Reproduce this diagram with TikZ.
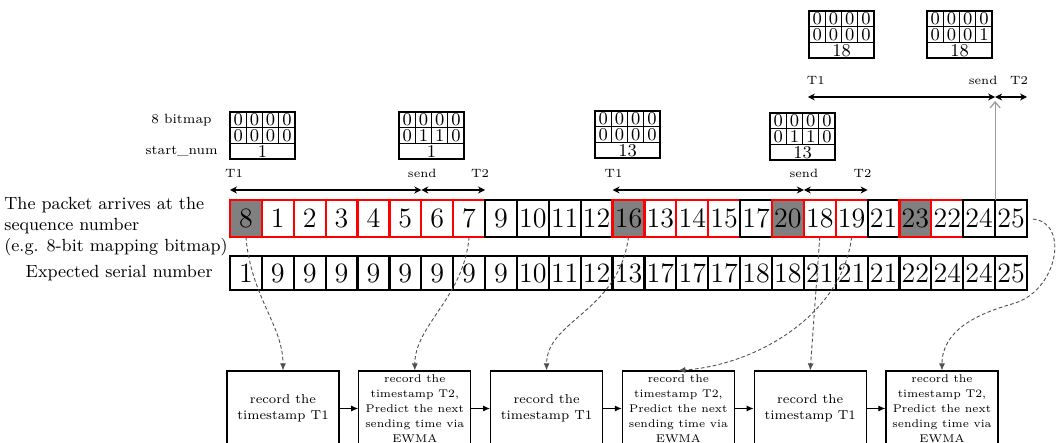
\documentclass[tikz,border=0pt]{standalone}
\usepackage{fontspec}
\usepackage{tikz}
\usetikzlibrary{positioning,arrows.meta,calc}
\definecolor{pktred}{HTML}{FF0000}
\definecolor{pktgrey}{HTML}{808080}
\definecolor{pktdash}{HTML}{505050}
\definecolor{pktup}{HTML}{9A9A9A}

% bitmap: name, top-left corner, upper row, lower row, start_num
\newcommand{\bmap}[5]{%
  \foreach \d [count=\k] in {#3}
    \node[bit] (#1u\k) at ($#2+({16.25*\k-8.125},7.85)$) {\d};
  \foreach \d [count=\k] in {#4}
    \node[bit] (#1l\k) at ($#2+({16.25*\k-8.125},23.55)$) {\d};
  \node[bit,minimum width=32.5pt] (#1s) at ($#2+(32.5,39.25)$) {#5};
  \draw[line width=1.1pt] (#1u1.north west) rectangle (#1s.south east);
}

\begin{document}
\begin{tikzpicture}[x=0.5pt,y=-0.5pt,
  cell/.style={draw,line width=1.1pt,minimum width=15.94pt,minimum height=18.5pt,inner sep=0pt,outer sep=0pt,font=\fontsize{14}{14}\selectfont},
  bcell/.style={cell,draw=black,fill=white},
  rcell/.style={cell,draw=pktred,fill=white},
  gcell/.style={cell,draw=pktred,fill=pktgrey},
  ecell/.style={cell,draw=black,fill=white,minimum height=17pt},
  bit/.style={draw,line width=0.7pt,minimum width=8.125pt,minimum height=7.85pt,inner sep=0pt,outer sep=0pt,font=\fontsize{9}{9}\selectfont},
  span/.style={{Stealth[length=3.5pt,width=3.5pt]}-{Stealth[length=3.5pt,width=3.5pt]},line width=0.9pt},
  tlab/.style={font=\fontsize{6}{7}\selectfont,inner sep=0pt},
  rowlab/.style={font=\fontsize{8.8}{10.5}\selectfont,inner sep=0pt},
  blab/.style={font=\fontsize{6.7}{8}\selectfont,inner sep=0pt},
  recbox/.style={draw,line width=0.6pt,minimum width=56pt,minimum height=37.5pt,inner sep=0pt,align=center},
  t1box/.style={recbox,font=\fontsize{6.5}{8}\selectfont},
  t2box/.style={recbox,font=\fontsize{5.6}{7.5}\selectfont},
  flow/.style={-{Latex[length=3.5pt,width=3pt]},line width=0.5pt},
  link/.style={dashed,dash pattern=on 1.8pt off 1.2pt,draw=pktdash,line width=0.45pt,-{Latex[length=3.5pt,width=3pt]}},
  upline/.style={draw=pktup,line width=0.6pt,-{Straight Barb[length=3pt,width=5pt]}}
]
\path[use as bounding box,fill=white] (0,0) rectangle (1057,443);

% arrival order and expected numbers
\foreach \v/\s [count=\i] in {8/gcell,1/rcell,2/rcell,3/rcell,4/rcell,5/rcell,6/rcell,7/rcell,9/bcell,10/bcell,11/bcell,12/bcell,16/gcell,13/rcell,14/rcell,15/rcell,17/bcell,20/gcell,18/rcell,19/rcell,21/bcell,23/gcell,22/rcell,24/bcell,25/bcell}
  \node[\s] (a\i) at ({230+31.88*(\i-0.5)},218.5) {\v};
\foreach \v [count=\i] in {1,9,9,9,9,9,9,9,9,10,11,12,13,17,17,17,18,18,21,21,21,22,24,24,25}
  \node[ecell] (e\i) at ({230+31.88*(\i-0.5)},273) {\v};

\node[rowlab,align=left,left=1pt of a1,yshift=-4.25pt] (arrlab) {The packet arrives at the\\sequence number\\(e.g. 8-bit mapping bitmap)};
\node[rowlab,left=8.5pt of e1] (explab) {Expected serial number};

% bitmaps
\bmap{b1}{(230,112)}{0,0,0,0}{0,0,0,0}{1}
\bmap{b2}{(399,112)}{0,0,0,0}{0,1,1,0}{1}
\bmap{b3}{(595,111)}{0,0,0,0}{0,0,0,0}{13}
\bmap{b4}{(770,113)}{0,0,0,0}{0,1,1,0}{13}
\bmap{b5}{(809,11)}{0,0,0,0}{0,0,0,0}{18}
\bmap{b6}{(927,11)}{0,0,0,0}{0,0,0,1}{18}
\node[blab,left=9pt of b1u1] (bmlab) {8 bitmap};
\node[blab,left=6pt of b1s] (stlab) {start\_num};

% T1 -- send -- T2 spans
\coordinate (s1a) at ($(a1.north west)+(0,-10)$);
\coordinate (s1b) at ($(a7.north west)+(0,-10)$);
\coordinate (s1c) at ($(a8.north east)+(0,-10)$);
\draw[span] (s1a) -- (s1b);
\draw[span] (s1b) -- (s1c);
\node[tlab] (t1a) at ($(s1a)+(4,-17)$) {T1};
\node[tlab] (snda) at ($(s1b)+(1,-17)$) {send};
\node[tlab] (t2a) at ($(s1c)+(-5,-17)$) {T2};

\coordinate (s2a) at ($(a13.north west)+(0,-10)$);
\coordinate (s2b) at ($(a19.north west)+(0,-10)$);
\coordinate (s2c) at ($(a20.north east)+(0,-10)$);
\draw[span] (s2a) -- (s2b);
\draw[span] (s2b) -- (s2c);
\node[tlab] (t1b) at ($(s2a)+(1,-17)$) {T1};
\node[tlab] (sndb) at ($(s2b)+(0,-17)$) {send};
\node[tlab] (t2b) at ($(s2c)+(-5,-17)$) {T2};

\coordinate (s3a) at ($(a19.north west)+(4,-103)$);
\coordinate (s3b) at ($(a25.north west)+(0,-103)$);
\coordinate (s3c) at ($(a25.north east)+(0,-103)$);
\draw[span] (s3a) -- (s3b);
\draw[span] (s3b) -- (s3c);
\node[tlab] (t1c) at ($(s3a)+(8,-17)$) {T1};
\node[tlab] (sndc) at ($(s3b)+(-12,-17)$) {send};
\node[tlab] (t2c) at ($(s3c)+(-8,-17)$) {T2};
\coordinate (uptip) at ($(s3b)+(0,4)$);
\draw[upline] (a25.north west) -- (uptip);

% processing steps
\node[t1box] (rec1) at (283,408.5) {record the\\timestamp T1};
\node[t2box,right=9.3pt of rec1] (rec2) {record the\\timestamp T2,\\Predict the next\\sending time via\\EWMA};
\node[t1box,right=9.3pt of rec2] (rec3) {record the\\timestamp T1};
\node[t2box,right=9.3pt of rec3] (rec4) {record the\\timestamp T2,\\Predict the next\\sending time via\\EWMA};
\node[t1box,right=9.3pt of rec4] (rec5) {record the\\timestamp T1};
\node[t2box,right=9.3pt of rec5] (rec6) {record the\\timestamp T2,\\Predict the next\\sending time via\\EWMA};
\draw[flow] (rec1) -- (rec2);
\draw[flow] (rec2) -- (rec3);
\draw[flow] (rec3) -- (rec4);
\draw[flow] (rec4) -- (rec5);
\draw[flow] (rec5) -- (rec6);

% triggers
\draw[link] (a1.south) .. controls +(5,60) and +(0,-45) .. (rec1.north);
\draw[link] (a8.south) .. controls +(-5,60) and +(0,-45) .. (rec2.north);
\draw[link] (a13.south) .. controls +(-10,75) and +(0,-50) .. (rec3.north);
\draw[link] (a20.south) .. controls +(-10,80) and +(75,-5) .. (rec4.north);
\draw[link] (a19.south) -- (rec5.north);
\coordinate (loop6) at (1012,304);
\draw[link,shorten <=3pt] (a25.east) .. controls +(43,4) and +(46,-12) .. (loop6) .. controls +(-35,10) and +(0,-40) .. (rec6.north);
\end{tikzpicture}
\end{document}
